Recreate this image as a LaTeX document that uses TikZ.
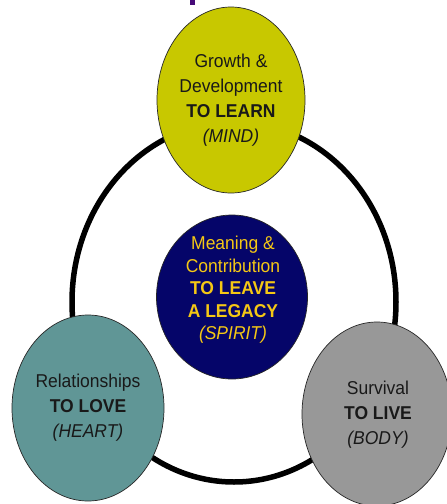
\documentclass[tikz,border=0pt]{standalone}
\usepackage{fontspec}
\setmainfont{Liberation Sans}[FakeStretch=0.94]
\usetikzlibrary{shapes.geometric}
\definecolor{cyellow}{RGB}{200,200,0}
\definecolor{cteal}{RGB}{96,150,150}
\definecolor{cgray}{RGB}{152,152,152}
\definecolor{cnavy}{RGB}{5,5,105}
\definecolor{cgold}{RGB}{245,200,20}
\definecolor{ctext}{RGB}{25,25,25}
\definecolor{cpurple}{RGB}{70,10,120}
\tikzset{
  ovalbox/.style={ellipse, draw=black!85, line width=0.7pt, inner sep=0pt},
  ovaltext/.style={align=center, font=\fontsize{18.6}{25}\selectfont, text=ctext, inner sep=0pt},
  ring/.style={line width=5.5pt, draw=black},
}
\begin{document}
\begin{tikzpicture}[x=1pt,y=-1pt]
\useasboundingbox (0,0) rectangle (447,504);
\clip (0,0) rectangle (447,504);
% fragment of a cut-off title
\fill[cpurple] (190,0) rectangle (195,5);
% ring
\draw[ring] (234,302) ellipse [x radius=162, y radius=180];
% top
\node[ovalbox, fill=cyellow, minimum width=148pt, minimum height=186pt] (mind) at (231,100) {};
\node[ovaltext] (mindtext) at (231,100) {Growth \&\\Development\\\textbf{TO LEARN}\\\textit{(MIND)}};
% center
\node[ovalbox, fill=cnavy, minimum width=151pt, minimum height=164pt] (spirit) at (232,297) {};
\node[ovaltext, text=cgold, font=\fontsize{18.6}{22.5}\selectfont] (spirittext) at (233,290) {Meaning \&\\Contribution\\\textbf{TO LEAVE}\hspace*{10pt}\\\textbf{A LEGACY}\\\textit{(SPIRIT)}};
% left
\node[ovalbox, fill=cteal, minimum width=152pt, minimum height=186pt] (heart) at (88,408) {};
\node[ovaltext] (hearttext) at (88,408) {Relationships\\\textbf{TO LOVE}\\\textit{(HEART)}};
% right
\node[ovalbox, fill=cgray, minimum width=150pt, minimum height=184pt] (body) at (377,414) {};
\node[ovaltext] (bodytext) at (378,415) {Survival\\\textbf{TO LIVE}\\\textit{(BODY)}};
\end{tikzpicture}
\end{document}
